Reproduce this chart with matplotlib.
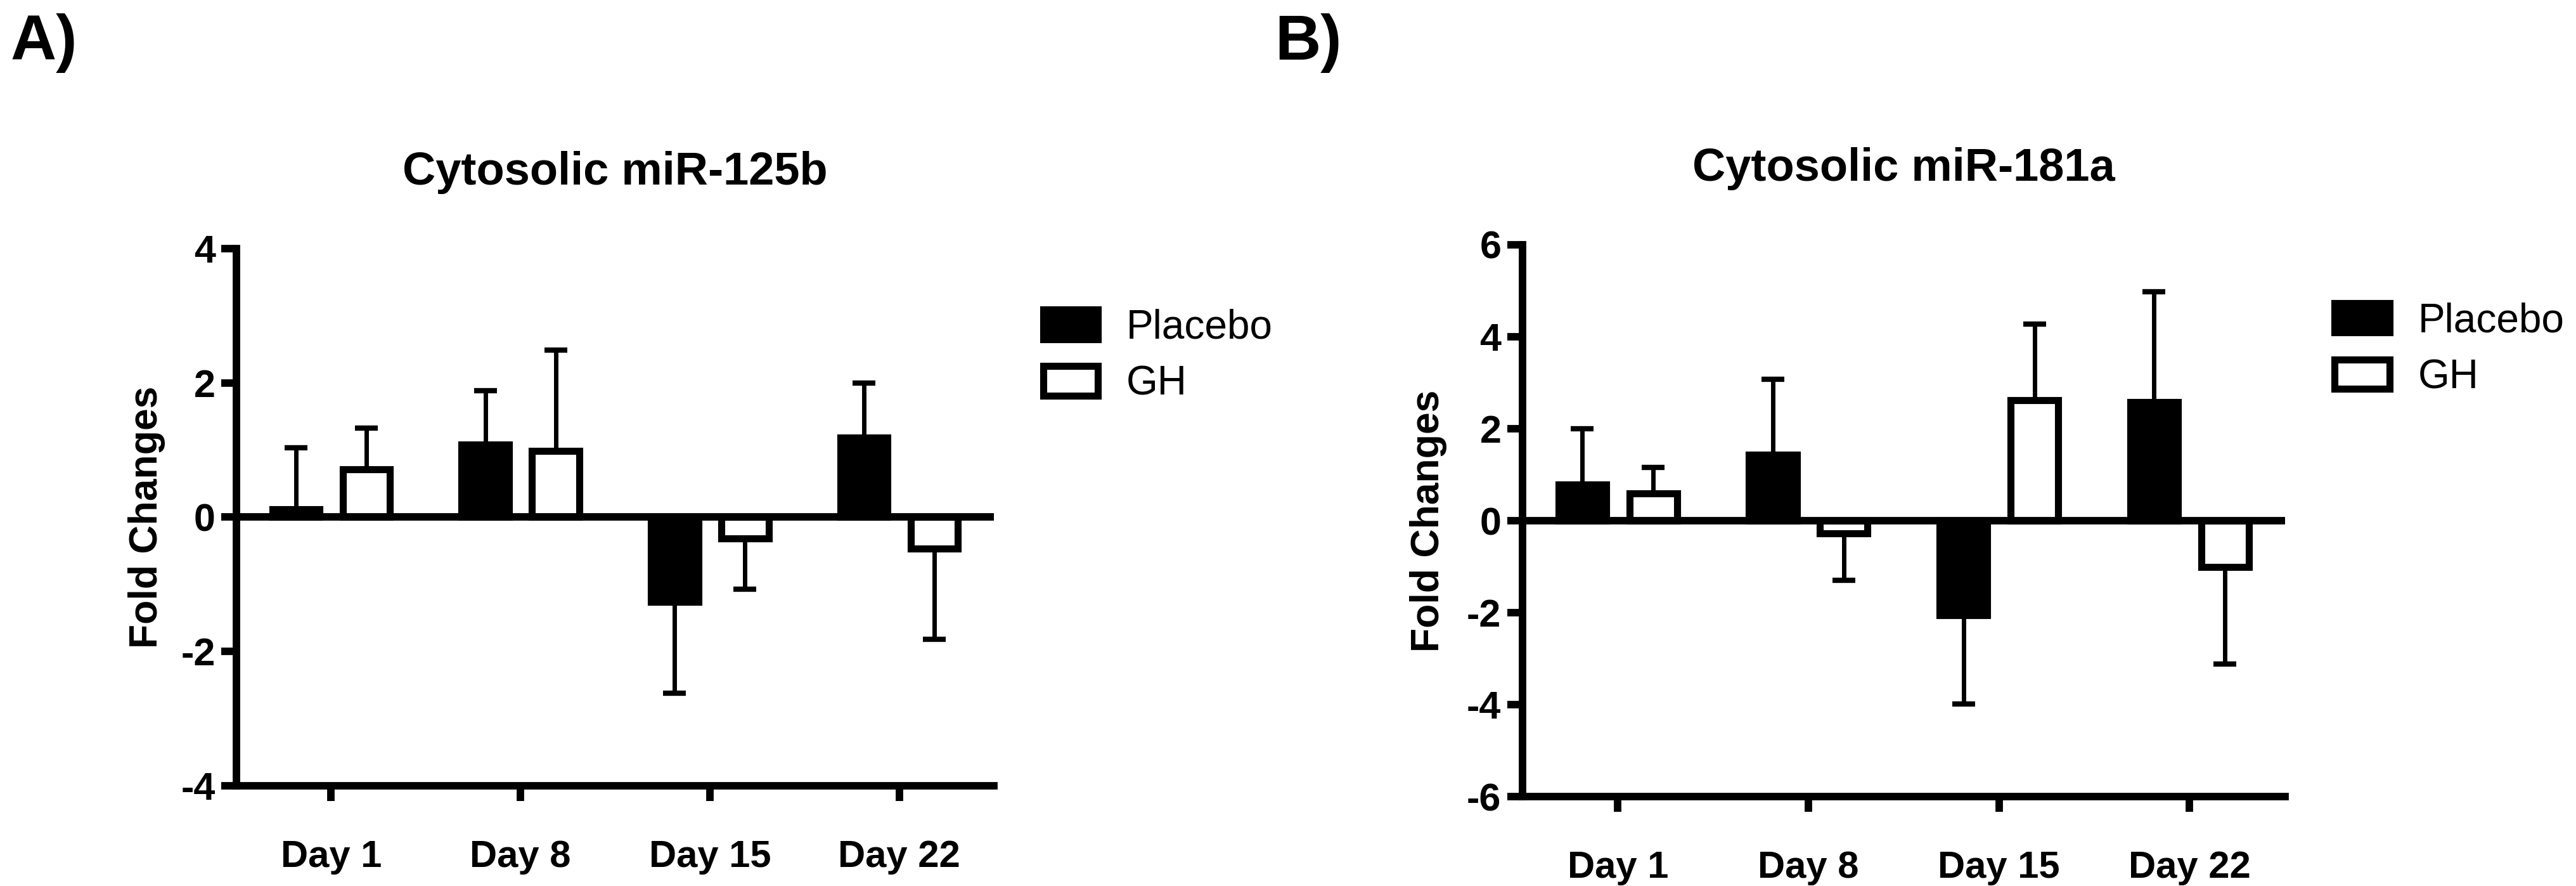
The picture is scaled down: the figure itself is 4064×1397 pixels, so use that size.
import numpy as np
import matplotlib
matplotlib.use("Agg")
import matplotlib.pyplot as plt

plt.rcParams['font.family'] = ['Liberation Sans', 'DejaVu Sans']

days = ["Day 1", "Day 8", "Day 15", "Day 22"]
groups = ["Placebo", "GH"]

# panel A: cytosolic miR-125b
placebo_a = [0.12, 1.08, -1.26, 1.19]
placebo_a_sem = [0.91, 0.80, 1.36, 0.81]
gh_a = [0.71, 0.99, -0.32, -0.47]
gh_a_sem = [0.62, 1.50, 0.75, 1.35]

# panel B: cytosolic miR-181a
placebo_b = [0.78, 1.43, -2.06, 2.58]
placebo_b_sem = [1.22, 1.64, 1.93, 2.40]
gh_b = [0.60, -0.28, 2.62, -1.01]
gh_b_sem = [0.56, 1.01, 1.65, 2.10]


def one_sided(means, sem):
    # error bar drawn only away from zero
    means = np.array(means)
    sem = np.array(sem)
    lower = np.where(means < 0, sem, 0)
    upper = np.where(means >= 0, sem, 0)
    return [lower, upper]


def draw_panel(ax, title, p, p_sem, g, g_sem, ylim, yticks, leg_y, ylab_x):
    x = np.arange(len(days))
    off = 0.186
    w = 0.25
    b1 = ax.bar(x - off, p, w, color='black', edgecolor='black', linewidth=8, zorder=2, label=groups[0])
    b2 = ax.bar(x + off, g, w, color='white', edgecolor='black', linewidth=8, zorder=2, label=groups[1])
    ax.errorbar(x - off, p, yerr=one_sided(p, p_sem), fmt='none', ecolor='black',
                elinewidth=5, capsize=13, capthick=6, zorder=1.5)
    ax.errorbar(x + off, g, yerr=one_sided(g, g_sem), fmt='none', ecolor='black',
                elinewidth=5, capsize=13, capthick=6, zorder=1.5)
    ax.axhline(0, color='black', linewidth=8.5, zorder=3)

    ax.set_xlim(-0.5, 3.5)
    ax.set_ylim(*ylim)
    ax.set_yticks(yticks)
    ax.set_xticks(x)
    ax.set_xticklabels(days, fontsize=43, fontweight='bold')
    ax.set_yticklabels([str(t) for t in yticks], fontsize=44, fontweight='bold')
    for s in ['top', 'right']:
        ax.spines[s].set_visible(False)
    for s in ['left', 'bottom']:
        ax.spines[s].set_linewidth(8.5)
    ax.tick_params(axis='both', length=17, width=8.5)
    ax.tick_params(axis='x', pad=44)
    ax.tick_params(axis='y', pad=7)

    ax.set_title(title, fontsize=52, fontweight='bold', pad=73)
    ax.set_ylabel("Fold Changes", fontsize=45, fontweight='bold')
    ax.yaxis.set_label_coords(ylab_x, 0.5)

    ax.legend([b1, b2], groups, loc='upper left', bbox_to_anchor=(1.065, leg_y),
              frameon=False, fontsize=46, handlelength=1.36, handleheight=0.74,
              handletextpad=0.7, labelspacing=0.45, borderpad=0, borderaxespad=0)


fig = plt.figure(figsize=(40.64, 13.97), dpi=100)
ax_a = fig.add_axes([0.0918, 0.1131, 0.2940, 0.6063])
ax_b = fig.add_axes([0.5910, 0.1009, 0.2960, 0.6228])

draw_panel(ax_a, "Cytosolic miR-125b", placebo_a, placebo_a_sem, gh_a, gh_a_sem,
           (-4, 4), [-4, -2, 0, 2, 4], 0.888, -0.094)
draw_panel(ax_b, "Cytosolic miR-181a", placebo_b, placebo_b_sem, gh_b, gh_b_sem,
           (-6, 6), [-6, -4, -2, 0, 2, 4, 6], 0.896, -0.099)

fig.text(0.004, 0.985, "A)", fontsize=72, fontweight='bold', va='top', ha='left')
fig.text(0.495, 0.985, "B)", fontsize=72, fontweight='bold', va='top', ha='left')

fig.savefig("out.png", dpi=100, facecolor='white')
